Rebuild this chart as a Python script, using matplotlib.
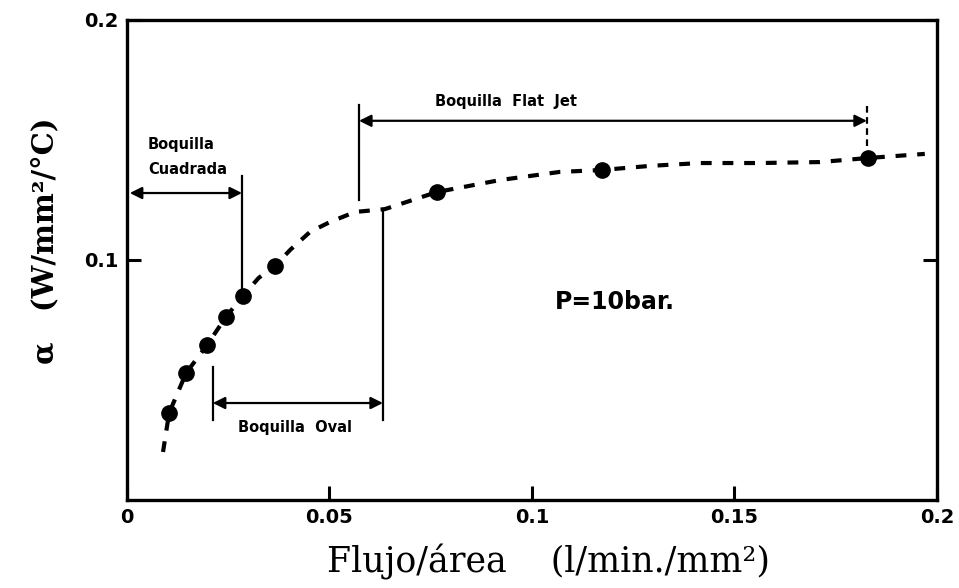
import matplotlib
matplotlib.use("Agg")
from matplotlib import pyplot as plt

# Puntos medidos (flujo por area, coeficiente alfa)
flujo = [0.0104, 0.0146, 0.0198, 0.0244, 0.0286, 0.0365, 0.0765, 0.1173, 0.1830]
alfa = [0.0362, 0.0529, 0.0646, 0.0762, 0.0850, 0.0975, 0.1283, 0.1375, 0.1425]

# Curva de ajuste trazada a mano
curva_x = [0.0089, 0.0104, 0.0146, 0.0198, 0.0244, 0.0286, 0.0325, 0.0365, 0.0403,
           0.0452, 0.0501, 0.0563, 0.0637, 0.0765, 0.0921, 0.1069, 0.1173, 0.1291,
           0.1415, 0.1563, 0.1711, 0.1830, 0.1970]
curva_y = [0.0200, 0.0362, 0.0529, 0.0646, 0.0762, 0.0850, 0.0925, 0.0975, 0.1042,
           0.1117, 0.1158, 0.1200, 0.1212, 0.1283, 0.1333, 0.1367, 0.1375, 0.1392,
           0.1404, 0.1404, 0.1408, 0.1425, 0.1442]

xticks = [0, 0.05, 0.1, 0.15, 0.2]
xtick_labels = ["0", "0.05", "0.1", "0.15", "0.2"]
yticks = [0.1, 0.2]
ytick_labels = ["0.1", "0.2"]

fig = plt.figure(figsize=(9.59, 5.88), dpi=100)
ax = fig.add_axes([0.1324, 0.1497, 0.8446, 0.8163])
ax.set_xlim(0, 0.2)
ax.set_ylim(0, 0.2)

ax.plot(curva_x, curva_y, color="k", lw=3, dashes=(2.6, 2.6), solid_capstyle="butt")
ax.plot(flujo, alfa, "o", color="k", ms=11)

for s in ax.spines.values():
    s.set_linewidth(2.4)

ax.set_xticks(xticks)
ax.set_xticklabels(xtick_labels)
ax.set_yticks(yticks)
ax.set_yticklabels(ytick_labels)
ax.tick_params(direction="in", length=10, width=2.2, right=True, labelsize=14, pad=6)
for lab in ax.get_xticklabels() + ax.get_yticklabels():
    lab.set_fontweight("bold")

# etiquetas de los ejes
fig.text(0.572, 0.045, "Flujo/área    (l/min./mm²)", family="DejaVu Serif",
         fontsize=25, ha="center", va="center")
fig.text(0.047, 0.59, "α   (W/mm²/°C)", family="DejaVu Serif", fontsize=21,
         fontweight="bold", rotation=90, ha="center", va="center")

flecha = dict(arrowstyle="<|-|>", color="k", lw=1.6, mutation_scale=18, shrinkA=0, shrinkB=0)
txt = dict(fontweight="bold", fontsize=10.5)

# Boquilla cuadrada
ax.annotate("", xy=(0.0007, 0.1279), xytext=(0.0284, 0.1279), arrowprops=flecha)
ax.plot([0.0284, 0.0284], [0.1350, 0.0860], color="k", lw=1.6)
ax.text(0.0052, 0.1480, "Boquilla", ha="left", va="center", **txt)
ax.text(0.0052, 0.1375, "Cuadrada", ha="left", va="center", **txt)

# Boquilla flat jet
ax.annotate("", xy=(0.0573, 0.1580), xytext=(0.1827, 0.1580), arrowprops=flecha)
ax.plot([0.0573, 0.0573], [0.1646, 0.1250], color="k", lw=1.6)
ax.plot([0.1827, 0.1827], [0.1640, 0.1460], color="k", lw=1.6, dashes=(3, 2))
ax.text(0.0936, 0.1660, "Boquilla  Flat  Jet", ha="center", va="center", **txt)

# Boquilla oval
ax.annotate("", xy=(0.0212, 0.0404), xytext=(0.0632, 0.0404), arrowprops=flecha)
ax.plot([0.0212, 0.0212], [0.0554, 0.0333], color="k", lw=1.6)
ax.plot([0.0632, 0.0632], [0.1208, 0.0333], color="k", lw=1.6)
ax.text(0.0415, 0.0304, "Boquilla  Oval", ha="center", va="center", **txt)

ax.text(0.1057, 0.0825, "P=10bar.", ha="left", va="center",
        fontweight="bold", fontsize=17)

fig.savefig("out.png", dpi=100)
